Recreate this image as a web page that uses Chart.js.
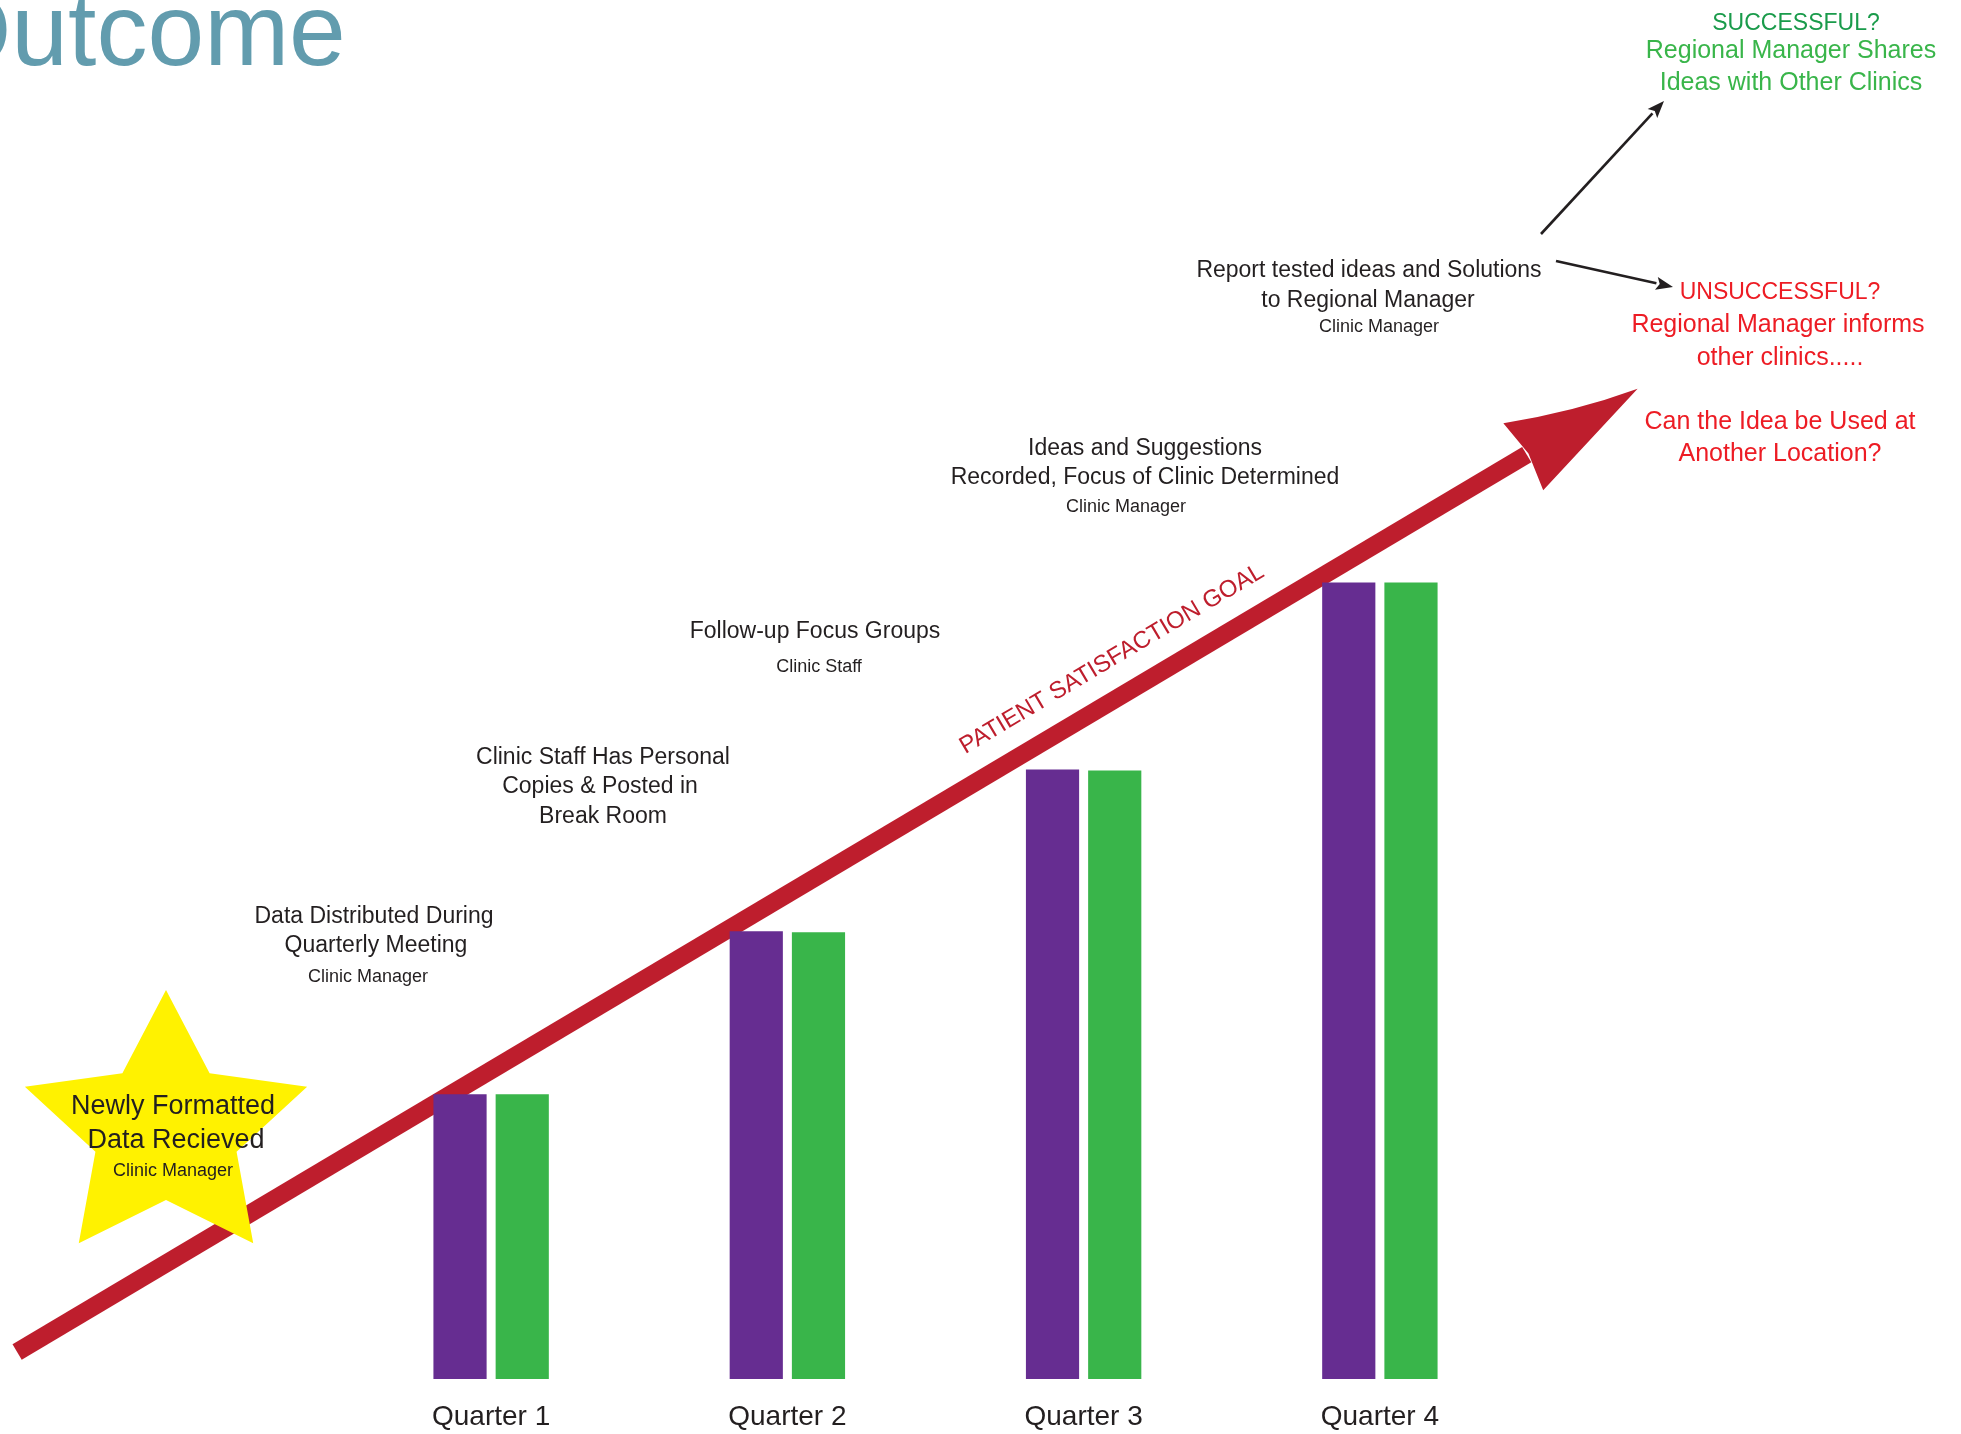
<!DOCTYPE html>
<html>
<head>
<meta charset="utf-8">
<title>Outcome</title>
<script src="https://cdn.jsdelivr.net/npm/chart.js"></script>
<style>
  html, body { margin: 0; padding: 0; background: #fff; }
  #wrap { position: relative; width: 1961px; height: 1434px; overflow: hidden; }
</style>
</head>
<body>
<div id="wrap"><canvas id="outcomeChart"></canvas></div>
<script>
// quarters and the two bar series
const quarters = ["Quarter 1", "Quarter 2", "Quarter 3", "Quarter 4"];
const purpleValues = [28.5, 44.8, 61.0, 79.7];
const greenValues = [28.5, 44.7, 60.9, 79.7];

// goal arrow, as [quarter index, value] for the tail and the tip
const goalStart = [-1.6, 2.7];
const goalTip = [3.87, 99.1];
const goalLabel = "PATIENT SATISFACTION GOAL";

// process steps along the way
const stepTitles = [
    ["Data Distributed During", "Quarterly Meeting"],
    ["Clinic Staff Has Personal", "Copies & Posted in", "Break Room"],
    ["Follow-up Focus Groups"],
    ["Ideas and Suggestions", "Recorded, Focus of Clinic Determined"],
    ["Report tested ideas and Solutions", "to Regional Manager"]
];
const stepOwners = ["Clinic Manager", "", "Clinic Staff", "Clinic Manager", "Clinic Manager"];
const starLines = ["Newly Formatted", "Data Recieved", "Clinic Manager"];
const successLines = ["SUCCESSFUL?", "Regional Manager Shares", "Ideas with Other Clinics"];
const failLines = ["UNSUCCESSFUL?", "Regional Manager informs", "other clinics.....", "Can the Idea be Used at", "Another Location?"];

const FONT = '"Liberation Sans", Arial, sans-serif';
const INK = "#231f20";
const GOAL_RED = "#be1e2d";
const NOTE_RED = "#ed1c24";

function label(ctx, text, x, y, size, color) {
    ctx.font = size + "px " + FONT;
    ctx.fillStyle = color;
    ctx.textAlign = "center";
    ctx.textBaseline = "middle";
    ctx.fillText(text, x, y);
}

function thinArrow(ctx, x1, y1, x2, y2) {
    const a = Math.atan2(y2 - y1, x2 - x1);
    const len = 17, half = 6.5;
    const bx = x2 - len * Math.cos(a), by = y2 - len * Math.sin(a);
    ctx.strokeStyle = INK;
    ctx.lineWidth = 2.6;
    ctx.beginPath();
    ctx.moveTo(x1, y1);
    ctx.lineTo(bx, by);
    ctx.stroke();
    ctx.fillStyle = INK;
    ctx.beginPath();
    ctx.moveTo(x2, y2);
    ctx.lineTo(bx + half * Math.sin(a), by - half * Math.cos(a));
    ctx.lineTo(x2 - len * 0.8 * Math.cos(a), y2 - len * 0.8 * Math.sin(a));
    ctx.lineTo(bx - half * Math.sin(a), by + half * Math.cos(a));
    ctx.closePath();
    ctx.fill();
}

function star(ctx, cx, cy, rOut, rIn, sx) {
    ctx.beginPath();
    for (let i = 0; i < 10; i++) {
        const r = i % 2 === 0 ? rOut : rIn;
        const a = -Math.PI / 2 + i * Math.PI / 5;
        const px = cx + r * Math.cos(a) * sx;
        const py = cy + r * Math.sin(a);
        if (i === 0) ctx.moveTo(px, py); else ctx.lineTo(px, py);
    }
    ctx.closePath();
    ctx.fillStyle = "#fff200";
    ctx.fill();
}

// everything behind the bars: title, goal arrow, star and notes
const decorPlugin = {
    id: "outcomeDecor",
    beforeDatasetsDraw(chart) {
        const ctx = chart.ctx;
        const xs = chart.scales.x, ys = chart.scales.y;
        ctx.save();

        // title, cut off at the page edge
        ctx.font = "102px " + FONT;
        ctx.fillStyle = "#629cae";
        ctx.textAlign = "left";
        ctx.textBaseline = "alphabetic";
        ctx.fillText("Outcome", -68, 65);

        // goal arrow
        const sx = xs.getPixelForValue(goalStart[0]), sy = ys.getPixelForValue(goalStart[1]);
        const tx = xs.getPixelForValue(goalTip[0]), ty = ys.getPixelForValue(goalTip[1]);
        const dx = tx - sx, dy = ty - sy;
        const L = Math.hypot(dx, dy);
        const ux = dx / L, uy = dy / L;
        const nx = -uy, ny = ux;
        const headLen = 133, headHalf = 39;
        const bx = tx - headLen * ux, by = ty - headLen * uy;

        ctx.strokeStyle = GOAL_RED;
        ctx.lineWidth = 18;
        ctx.lineCap = "butt";
        ctx.beginPath();
        ctx.moveTo(sx, sy);
        ctx.lineTo(bx + 4 * ux, by + 4 * uy);
        ctx.stroke();

        const c1x = bx - headHalf * nx, c1y = by - headHalf * ny;
        const c2x = bx + headHalf * nx, c2y = by + headHalf * ny;
        ctx.fillStyle = GOAL_RED;
        ctx.beginPath();
        ctx.moveTo(c1x, c1y);
        ctx.quadraticCurveTo((c1x + tx) / 2 + 7 * nx, (c1y + ty) / 2 + 7 * ny, tx, ty);
        ctx.lineTo(c2x, c2y);
        ctx.lineTo(bx + 6 * ux, by + 6 * uy);
        ctx.closePath();
        ctx.fill();

        // goal label riding above the shaft
        const lx = sx + dx * 0.687 - 36 * nx, ly = sy + dy * 0.687 - 36 * ny;
        ctx.save();
        ctx.translate(lx, ly);
        ctx.rotate(Math.atan2(dy, dx));
        label(ctx, goalLabel, 0, 0, 24, GOAL_RED);
        ctx.restore();

        // starting point
        star(ctx, 166, 1130, 140, 70, 1.06);
        label(ctx, starLines[0], 173, 1107, 27, INK);
        label(ctx, starLines[1], 176, 1141, 27, INK);
        label(ctx, starLines[2], 173, 1171, 18, INK);

        // step notes
        label(ctx, stepTitles[0][0], 374, 917, 23, INK);
        label(ctx, stepTitles[0][1], 376, 946, 23, INK);
        label(ctx, stepOwners[0], 368, 977, 18, INK);

        label(ctx, stepTitles[1][0], 603, 758, 23, INK);
        label(ctx, stepTitles[1][1], 600, 787, 23, INK);
        label(ctx, stepTitles[1][2], 603, 817, 23, INK);

        label(ctx, stepTitles[2][0], 815, 632, 23, INK);
        label(ctx, stepOwners[2], 819, 667, 18, INK);

        label(ctx, stepTitles[3][0], 1145, 449, 23, INK);
        label(ctx, stepTitles[3][1], 1145, 478, 23, INK);
        label(ctx, stepOwners[3], 1126, 507, 18, INK);

        label(ctx, stepTitles[4][0], 1369, 271, 23, INK);
        label(ctx, stepTitles[4][1], 1368, 301, 23, INK);
        label(ctx, stepOwners[4], 1379, 327, 18, INK);

        // outcomes
        label(ctx, successLines[0], 1796, 24, 23, "#1a9b4b");
        label(ctx, successLines[1], 1791, 51, 25, "#39b54a");
        label(ctx, successLines[2], 1791, 83, 25, "#39b54a");

        label(ctx, failLines[0], 1780, 293, 23, NOTE_RED);
        label(ctx, failLines[1], 1778, 325, 25, NOTE_RED);
        label(ctx, failLines[2], 1780, 358, 25, NOTE_RED);
        label(ctx, failLines[3], 1780, 422, 25, NOTE_RED);
        label(ctx, failLines[4], 1780, 454, 25, NOTE_RED);

        thinArrow(ctx, 1541, 234, 1664, 101);
        thinArrow(ctx, 1556, 261, 1673, 287);

        ctx.restore();
    }
};

Chart.defaults.font.family = FONT;

new Chart(document.getElementById("outcomeChart"), {
    type: "bar",
    data: {
        labels: quarters,
        datasets: [
            { label: "Purple", data: purpleValues, backgroundColor: "#662d91" },
            { label: "Green", data: greenValues, backgroundColor: "#39b54a" }
        ]
    },
    options: {
        responsive: true,
        maintainAspectRatio: false,
        animation: false,
        layout: { padding: { left: 343, right: 433, top: 0, bottom: 0 } },
        categoryPercentage: 0.42,
        barPercentage: 0.855,
        plugins: {
            legend: { display: false },
            tooltip: { enabled: false }
        },
        scales: {
            x: {
                grid: { display: false, drawTicks: false },
                border: { display: false },
                ticks: { color: INK, font: { size: 28 }, padding: 21, maxRotation: 0, autoSkip: false },
                afterFit(scale) { scale.height = 55; }
            },
            y: {
                display: false,
                min: 0,
                max: 138
            }
        }
    },
    plugins: [decorPlugin]
});
</script>
</body>
</html>
